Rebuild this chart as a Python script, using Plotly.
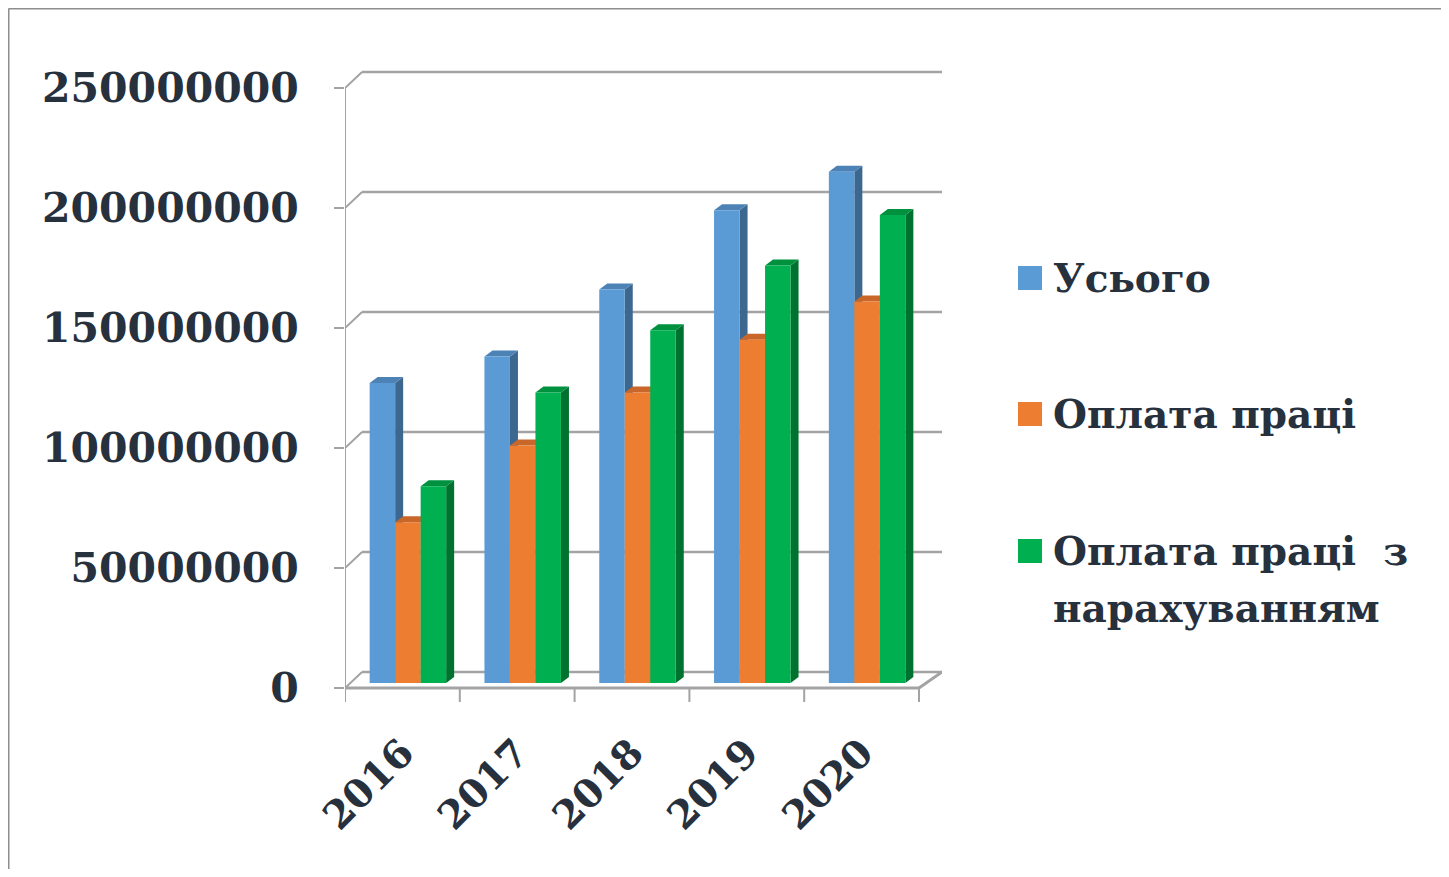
import plotly.graph_objects as go

# ---------------- data ----------------
years = ["2016", "2017", "2018", "2019", "2020"]
series_names = ["Усього", "Оплата праці", "Оплата праці  з<br>нарахуванням"]
total = [125e6, 136e6, 164e6, 197e6, 213e6]
wages = [67e6, 99e6, 121e6, 143e6, 159e6]
wages_accrued = [82e6, 121e6, 147e6, 174e6, 195e6]
y_ticks = [0, 50e6, 100e6, 150e6, 200e6, 250e6]
y_ticktext = ["0", "50000000", "100000000", "150000000", "200000000", "250000000"]

series_values = [total, wages, wages_accrued]
front_colors = ["#5B9BD5", "#ED7D31", "#00B050"]
side_colors = ["#3C678E", "#B15B20", "#00722F"]
top_colors = ["#4C82B6", "#C9662A", "#00913F"]

# ---------------- geometry ----------------
# The page body has an 8px margin, so the figure is made 16px smaller and
# screen pixel positions are converted to figure/paper coordinates.
PAGE_OFF = 8
W, H = 1449 - 2 * PAGE_OFF, 877 - 2 * PAGE_OFF


def px_x(sx):
    return (sx - PAGE_OFF) / W


def px_y(sy):
    return 1 - (sy - PAGE_OFF) / H


X_LEFT_PX, X_RIGHT_PX = 345, 942          # front axis left, back wall right (screen px)
PX_PER_X = 114.8
X_MIN = -0.5
X_MAX = X_MIN + (X_RIGHT_PX - X_LEFT_PX) / PX_PER_X
PX_PER_Y = 2.4e-6                          # pixels per unit value
Y_ZERO_PX = 688                            # front plane zero (screen px)
Y_BOTTOM_PX = 712
Y_TOP_PX = PAGE_OFF
Y_MIN = -(Y_BOTTOM_PX - Y_ZERO_PX) / PX_PER_Y
Y_MAX = (Y_ZERO_PX - Y_TOP_PX) / PX_PER_Y


def dx(px):
    return px / PX_PER_X


def dy(px):
    return px / PX_PER_Y


WALL_DX, WALL_DY = dx(17), dy(16)
BAR_SHIFT_X, BAR_SHIFT_Y = dx(5.5), dy(5)
FACE_DX, FACE_DY = dx(8), dy(6)
BAR_W = dx(25.5)
n_series = len(series_values)

grid_color = "#A3A3A3"
text_color = "#27303D"

fig = go.Figure()
shapes = []

# back wall gridlines + connectors to front axis
for v in y_ticks:
    shapes.append(dict(type="line", xref="x", yref="y", layer="below",
                       x0=X_MIN + WALL_DX, x1=X_MAX, y0=v + WALL_DY, y1=v + WALL_DY,
                       line=dict(color=grid_color, width=2.5)))
    shapes.append(dict(type="line", xref="x", yref="y", layer="below",
                       x0=X_MIN, x1=X_MIN + WALL_DX, y0=v, y1=v + WALL_DY,
                       line=dict(color=grid_color, width=2)))
# front vertical axis
shapes.append(dict(type="line", xref="x", yref="y", layer="below",
                   x0=X_MIN, x1=X_MIN, y0=0, y1=y_ticks[-1],
                   line=dict(color=grid_color, width=2)))
# floor front edge and right diagonal
n_cat = len(years)
shapes.append(dict(type="line", xref="x", yref="y", layer="below",
                   x0=X_MIN, x1=n_cat - 0.5, y0=0, y1=0,
                   line=dict(color=grid_color, width=3)))
shapes.append(dict(type="line", xref="x", yref="y", layer="below",
                   x0=n_cat - 0.5, x1=X_MAX, y0=0, y1=WALL_DY,
                   line=dict(color=grid_color, width=3)))
# category boundary ticks below the floor
for k in range(n_cat + 1):
    xb = k - 0.5
    shapes.append(dict(type="line", xref="x", yref="y", layer="below",
                       x0=xb, x1=xb, y0=0, y1=-dy(14),
                       line=dict(color=grid_color, width=2)))

# bars (front faces) and their 3D side/top faces
x_idx = list(range(n_cat))
for j, (name, vals) in enumerate(zip(series_names, series_values)):
    off = -n_series * BAR_W / 2 + j * BAR_W + BAR_SHIFT_X
    fig.add_trace(go.Bar(
        x=x_idx, y=vals, base=[BAR_SHIFT_Y] * n_cat, width=BAR_W, offset=off,
        name=name.replace("<br>", " "),
        marker=dict(color=front_colors[j], line=dict(width=0)),
        showlegend=False))
    for i, v in enumerate(vals):
        x0 = i + off
        x1 = x0 + BAR_W
        b = BAR_SHIFT_Y
        t = BAR_SHIFT_Y + v
        side = (f"M {x1} {b} L {x1 + FACE_DX} {b + FACE_DY} "
                f"L {x1 + FACE_DX} {t + FACE_DY} L {x1} {t} Z")
        top = (f"M {x0} {t} L {x0 + FACE_DX} {t + FACE_DY} "
               f"L {x1 + FACE_DX} {t + FACE_DY} L {x1} {t} Z")
        shapes.append(dict(type="path", path=side, xref="x", yref="y", layer="between",
                           fillcolor=side_colors[j], line=dict(width=0)))
        shapes.append(dict(type="path", path=top, xref="x", yref="y", layer="between",
                           fillcolor=top_colors[j], line=dict(width=0)))

# outer frame (top and left edges)
FRAME = 8.5
shapes.append(dict(type="line", xref="paper", yref="paper",
                   x0=px_x(FRAME), x1=1, y0=px_y(FRAME), y1=px_y(FRAME),
                   line=dict(color="#8E8E8E", width=2)))
shapes.append(dict(type="line", xref="paper", yref="paper",
                   x0=px_x(FRAME), x1=px_x(FRAME), y0=0, y1=px_y(FRAME),
                   line=dict(color="#8E8E8E", width=2)))

# manual legend (one annotation per text line)
legend_centers_px = [278, 414, 551]
LEGEND_LINE_PX = 57
annotations = []
for j, name in enumerate(series_names):
    cy = legend_centers_px[j]
    shapes.append(dict(type="rect", xref="paper", yref="paper",
                       x0=px_x(1018), x1=px_x(1042), y0=px_y(cy + 12), y1=px_y(cy - 12),
                       fillcolor=front_colors[j], line=dict(width=0)))
    for k, line_text in enumerate(name.split("<br>")):
        annotations.append(dict(
            xref="paper", yref="paper", x=px_x(1051), y=px_y(cy + k * LEGEND_LINE_PX),
            xanchor="left", yanchor="middle", align="left",
            text=line_text, showarrow=False,
            font=dict(family="DejaVu Serif", size=39, color=text_color, weight="bold")))

fig.update_layout(
    width=W, height=H,
    margin=dict(l=0, r=0, t=0, b=0, autoexpand=False),
    paper_bgcolor="white", plot_bgcolor="white",
    barmode="overlay",
    showlegend=False,
    shapes=shapes,
    annotations=annotations,
    xaxis=dict(
        domain=[px_x(X_LEFT_PX), px_x(X_RIGHT_PX)],
        range=[X_MIN, X_MAX],
        automargin=False,
        tickvals=x_idx, ticktext=years, tickangle=-45,
        showgrid=False, zeroline=False, showline=False, ticks="",
        ticklabelstandoff=9,
        tickfont=dict(family="DejaVu Serif", size=39, color=text_color, weight="bold"),
    ),
    yaxis=dict(
        domain=[px_y(Y_BOTTOM_PX), px_y(Y_TOP_PX)],
        range=[Y_MIN, Y_MAX],
        automargin=False,
        tickvals=y_ticks, ticktext=y_ticktext,
        showgrid=False, zeroline=False, showline=False,
        ticks="outside", ticklen=10, tickwidth=2, tickcolor=grid_color,
        ticklabelstandoff=27,
        tickfont=dict(family="DejaVu Serif", size=41, color=text_color, weight="bold"),
    ),
)

fig.write_html("out.html")
